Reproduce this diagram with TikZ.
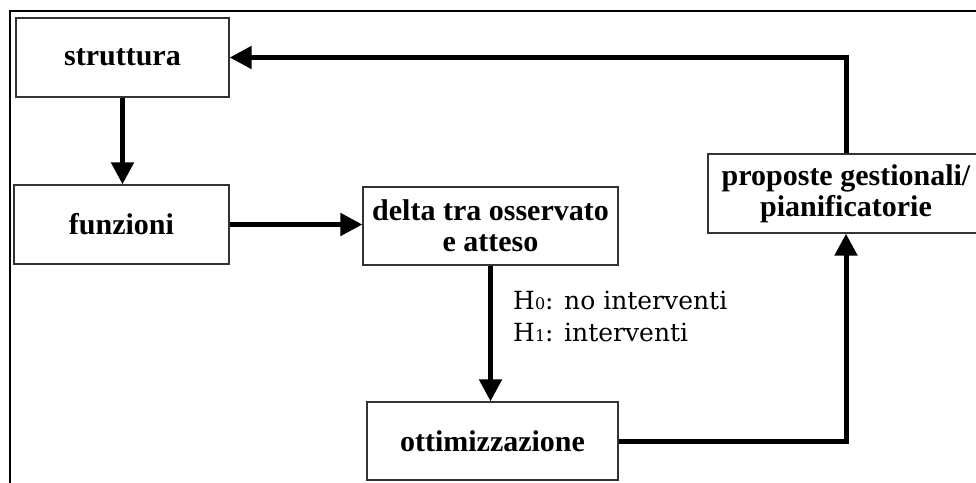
\documentclass[tikz,border=0pt]{standalone}
\usepackage{fontspec}
\setmainfont{Liberation Serif}
\newfontfamily\labfont{DejaVu Serif}
\usetikzlibrary{arrows.meta}
\tikzset{
  box/.style={draw=black!80, line width=1.3pt, fill=white, inner sep=2pt,
    font=\fontsize{30}{31}\selectfont\bfseries, align=center},
  conn/.style={line width=5pt, -{Triangle[length=22pt,width=22pt]}},
  lab/.style={inner sep=0pt, anchor=base west, font=\labfont\fontsize{25}{30}\selectfont}
}
\begin{document}
\begin{tikzpicture}[x=1pt,y=-1pt]
\useasboundingbox (0,0) rectangle (976,482);
\clip (0,0) rectangle (976,482);
% outer frame (top and left visible)
\draw[line width=2pt] (10,490) -- (10,11) -- (990,11);
\node[box, minimum width=213pt, minimum height=79pt] (str) at (122.5,57.5) {struttura};
\node[box, minimum width=215pt, minimum height=79pt] (fun) at (121.5,224.5) {funzioni};
\node[box, minimum width=255pt, minimum height=78pt] (del) at (490.5,226) {delta tra osservato\\e atteso};
\node[box, minimum width=251pt, minimum height=78pt] (ott) at (492.5,441) {ottimizzazione};
\node[box, minimum width=276pt, minimum height=79pt] (pro) at (846,193.5) {proposte gestionali/\\pianificatorie};
\node[lab] (h0) at (513,309) {H{\fontsize{16}{16}\selectfont 0}: no interventi};
\node[lab] (h1) at (513,341) {H{\fontsize{16}{16}\selectfont 1}: interventi};
\draw[conn] (str.south) -- (str.south |- fun.north);
\draw[conn] (fun.east) -- (fun.east -| del.west);
\draw[conn] (del.south) -- (del.south |- ott.north);
\draw[conn] (ott.east) -| (pro.south);
\draw[conn] (pro.north) |- (str.east);
\end{tikzpicture}
\end{document}
